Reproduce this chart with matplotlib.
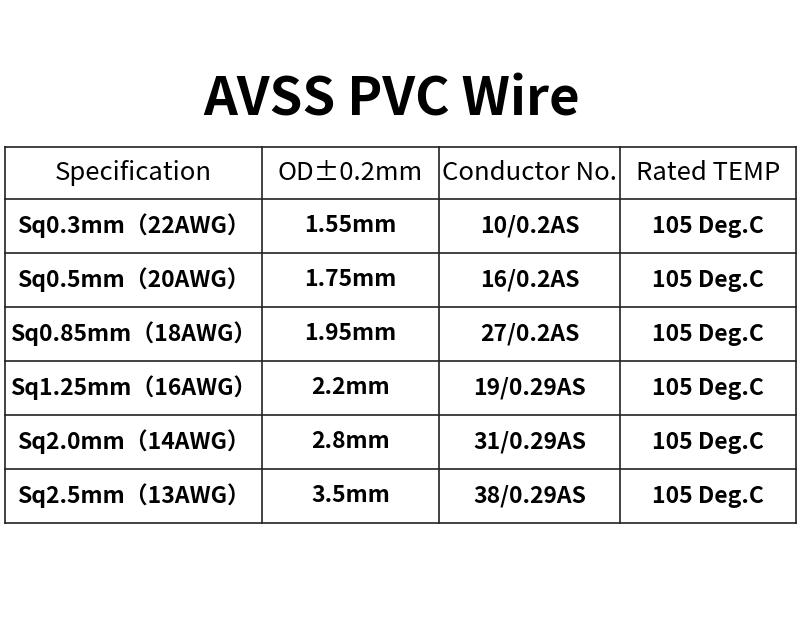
import matplotlib.pyplot as plt

plt.rcParams['font.family'] = ['Noto Sans CJK SC', 'DejaVu Sans']

title = "AVSS PVC Wire"
headers = ["Specification", "OD±0.2mm", "Conductor No.", "Rated TEMP"]
spec = ["Sq0.3mm（22AWG）", "Sq0.5mm（20AWG）", "Sq0.85mm（18AWG）",
        "Sq1.25mm（16AWG）", "Sq2.0mm（14AWG）", "Sq2.5mm（13AWG）"]
od = ["1.55mm", "1.75mm", "1.95mm", "2.2mm", "2.8mm", "3.5mm"]
conductor = ["10/0.2AS", "16/0.2AS", "27/0.2AS", "19/0.29AS", "31/0.29AS", "38/0.29AS"]
temp = ["105 Deg.C"] * 6

col_x = [5, 262, 439, 620, 796]
row_y = [147, 199, 253, 307, 361, 415, 469, 523]

fig = plt.figure(figsize=(8, 6.32), dpi=100)
ax = fig.add_axes([0, 0, 1, 1])
ax.set_xlim(0, 800)
ax.set_ylim(632, 0)
ax.axis('off')

ax.text(392, 100, title, ha='center', va='center', fontsize=38, fontweight='bold')

for x in col_x:
    ax.plot([x, x], [row_y[0], row_y[-1]], color='#222222', lw=1.2)
for y in row_y:
    ax.plot([col_x[0], col_x[-1]], [y, y], color='#222222', lw=1.2)

def cx(i):
    return (col_x[i] + col_x[i + 1]) / 2

def cy(j):
    return (row_y[j] + row_y[j + 1]) / 2

for i, h in enumerate(headers):
    ax.text(cx(i), cy(0), h, ha='center', va='center', fontsize=18.5)

rows = list(zip(spec, od, conductor, temp))
for j, r in enumerate(rows):
    for i, v in enumerate(r):
        ax.text(cx(i), cy(j + 1), v, ha='center', va='center', fontsize=16.5, fontweight='bold')

fig.savefig('out.png', dpi=100, facecolor='white')
